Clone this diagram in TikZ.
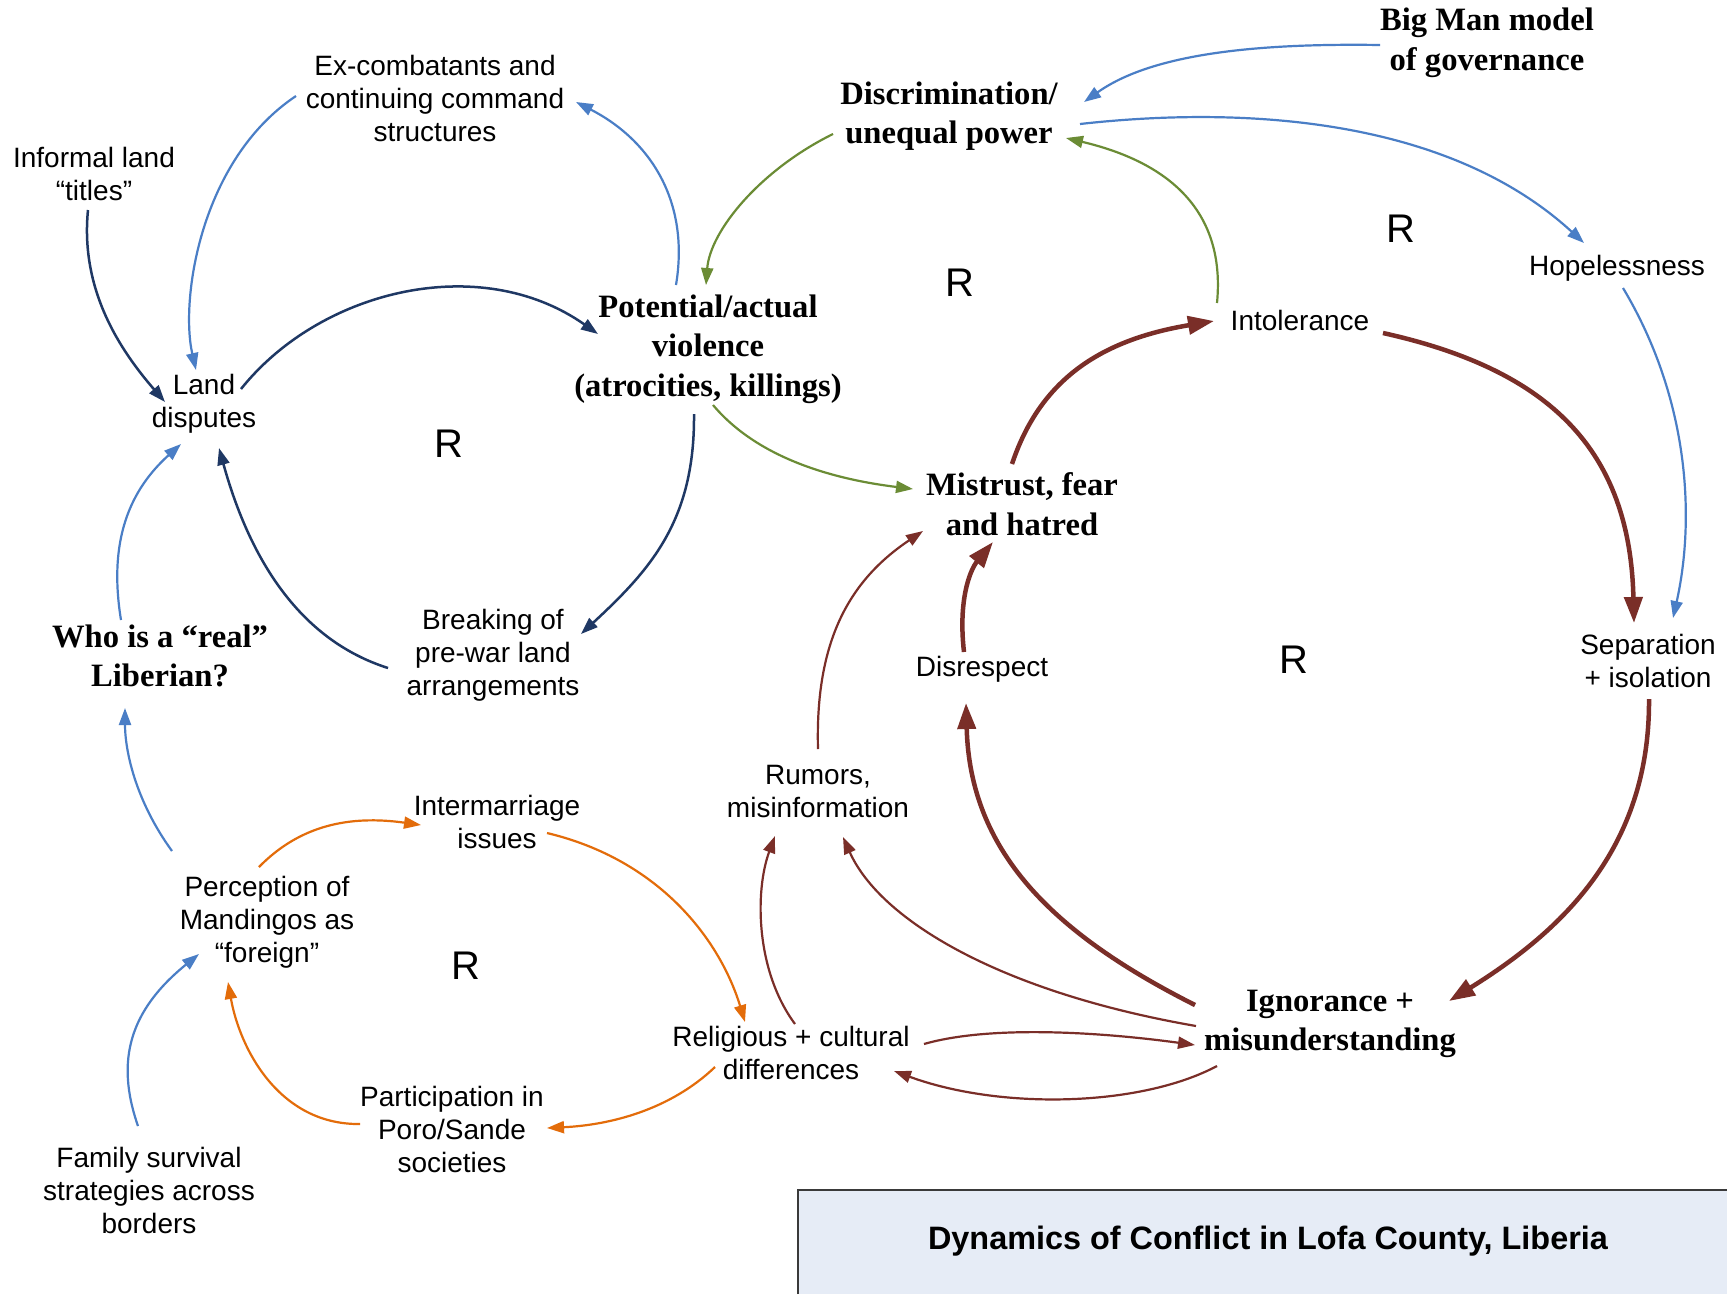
\documentclass[tikz,border=0pt]{standalone}
\usepackage{fontspec}
\setmainfont{Liberation Serif}
\setsansfont{Liberation Sans}
\usetikzlibrary{arrows.meta}
\definecolor{linkblue}{HTML}{4A7EC6}
\definecolor{linkgreen}{HTML}{6B8C35}
\definecolor{linknavy}{HTML}{1F3864}
\definecolor{linkorange}{HTML}{E36C0A}
\definecolor{linkred}{HTML}{7A2E28}
\definecolor{titlefill}{HTML}{E6ECF6}
\definecolor{titleedge}{HTML}{3A3A3A}
\begin{document}
\begin{tikzpicture}[x=1pt,y=-1pt,
  plain/.style={font=\sffamily\fontsize{28}{33}\selectfont,align=center,inner sep=0pt},
  key/.style={font=\bfseries\fontsize{32.6}{39.5}\selectfont,align=center,inner sep=0pt},
  loopmark/.style={font=\sffamily\fontsize{40}{48}\selectfont,inner sep=0pt},
  thinlink/.style={line width=2.2pt,-{Triangle[length=17pt,width=12pt]}},
  thicklink/.style={line width=4.5pt,-{Triangle[length=26pt,width=18pt]}},
]
\clip (0,0) rectangle (1727,1294);
\fill[white] (0,0) rectangle (1727,1294);

% title panel
\fill[titlefill] (798,1190) rectangle (1727,1294);
\draw[titleedge,line width=1.5pt] (798,1294) -- (798,1190) -- (1727,1190);
\node[font=\sffamily\bfseries\fontsize{32.4}{38}\selectfont,inner sep=0pt] (title) at (1268,1241) {Dynamics of Conflict in Lofa County, Liberia};

% variables
\node[plain] (excomb) at (435,98) {Ex-combatants and\\continuing command\\structures};
\node[plain] (informal) at (94,174) {Informal land\\“titles”};
\node[plain] (land) at (204,404) {Land\\disputes};
\node[plain] (breaking) at (493,655) {Breaking of\\pre-war land\\arrangements};
\node[plain] (hopeless) at (1617,268) {Hopelessness};
\node[plain] (intol) at (1300,320) {Intolerance};
\node[plain] (disresp) at (982,669) {Disrespect};
\node[plain] (separation) at (1648,661) {Separation\\+ isolation};
\node[plain] (rumors) at (818,791) {Rumors,\\misinformation};
\node[plain] (intermar) at (497,822) {Intermarriage\\issues};
\node[plain] (perception) at (267,922) {Perception of\\Mandingos as\\“foreign”};
\node[plain] (religious) at (791,1053) {Religious + cultural\\differences};
\node[plain] (particip) at (452,1129) {Participation in\\Poro/Sande\\societies};
\node[plain] (family) at (149,1190) {Family survival\\strategies across\\borders};

\node[key] (bigman) at (1487,43) {Big Man model\\of governance};
\node[key] (discrim) at (949,116) {Discrimination/\\unequal power};
\node[key] (violence) at (708,349) {Potential/actual\\violence\\(atrocities, killings)};
\node[key] (mistrust) at (1022,504) {Mistrust, fear\\and hatred};
\node[key] (who) at (160,656) {Who is a “real”\\Liberian?};
\node[key] (ignorance) at (1330,1024) {Ignorance +\\misunderstanding};

% loop markers
\node[loopmark] (r1) at (449,444) {R};
\node[loopmark] (r2) at (960,283) {R};
\node[loopmark] (r3) at (1401,229) {R};
\node[loopmark] (r4) at (1294,660) {R};
\node[loopmark] (r5) at (466,966) {R};

% blue links
\draw[thinlink,linkblue] ([shift={(-139,-2)}]excomb.center) .. controls +(-96,64) and +(-16,-70) .. ([shift={(-8,-34)}]land.center);
\draw[thinlink,linkblue] ([shift={(-32,-64)}]violence.center) .. controls +(14,-84) and +(74,38) .. ([shift={(141,4)}]excomb.center);
\draw[thinlink,linkblue] ([shift={(-39,-36)}]who.center) .. controls +(-13,-80) and +(-51,46) .. ([shift={(-23,40)}]land.center);
\draw[thinlink,linkblue] ([shift={(-95,-71)}]perception.center) .. controls +(-37,-51) and +(0,42) .. ([shift={(-35,52)}]who.center);
\draw[thinlink,linkblue] ([shift={(-11,-64)}]family.center) .. controls +(-23,-66) and +(-69,56) .. ([shift={(-68,32)}]perception.center);
\draw[thinlink,linkblue] ([shift={(-107,2)}]bigman.center) .. controls +(-130,-2) and +(66,-47) .. ([shift={(135,-14)}]discrim.center);
\draw[thinlink,linkblue] ([shift={(131,8)}]discrim.center) .. controls +(170,-19) and +(-134,-123) .. ([shift={(-33,-25)}]hopeless.center);
\draw[thinlink,linkblue] ([shift={(6,20)}]hopeless.center) .. controls +(67,112) and +(22,-98) .. ([shift={(25,-43)}]separation.center);

% green links
\draw[thinlink,linkgreen] ([shift={(-116,18)}]discrim.center) .. controls +(-73,36) and +(4,-54) .. ([shift={(-2,-64)}]violence.center);
\draw[thinlink,linkgreen] ([shift={(-83,-17)}]intol.center) .. controls +(8,-83) and +(114,27) .. ([shift={(117,22)}]discrim.center);
\draw[thinlink,linkgreen] ([shift={(5,56)}]violence.center) .. controls +(47,56) and +(-73,-9) .. ([shift={(-109,-15)}]mistrust.center);

% navy links
\draw[thinlink,linknavy,line width=2.5pt] ([shift={(-6,36)}]informal.center) .. controls +(-8,80) and +(-45,-52) .. ([shift={(-39,-2)}]land.center);
\draw[thinlink,linknavy,line width=2.5pt] ([shift={(37,-15)}]land.center) .. controls +(79,-99) and +(-118,-83) .. ([shift={(-110,-15)}]violence.center);
\draw[thinlink,linknavy,line width=2.5pt] ([shift={(-14,65)}]violence.center) .. controls +(1,107) and +(69,-64) .. ([shift={(88,-21)}]breaking.center);
\draw[thinlink,linknavy,line width=2.5pt] ([shift={(-105,13)}]breaking.center) .. controls +(-88,-28) and +(31,112) .. ([shift={(15,44)}]land.center);

% orange links
\draw[thinlink,linkorange] ([shift={(-8,-55)}]perception.center) .. controls +(41,-42) and +(-71,-10) .. ([shift={(-76,3)}]intermar.center);
\draw[thinlink,linkorange] ([shift={(50,11)}]intermar.center) .. controls +(113,27) and +(-25,-82) .. ([shift={(-46,-31)}]religious.center);
\draw[thinlink,linkorange] ([shift={(-76,14)}]religious.center) .. controls +(-45,43) and +(63,-3) .. ([shift={(95,-1)}]particip.center);
\draw[thinlink,linkorange] ([shift={(-92,-5)}]particip.center) .. controls +(-80,1) and +(12,68) .. ([shift={(-39,60)}]perception.center);

% red links, main loop
\draw[thicklink,linkred] ([shift={(-10,-40)}]mistrust.center) .. controls +(28,-84) and +(-114,19) .. ([shift={(-86,1)}]intol.center);
\draw[thicklink,linkred] ([shift={(83,13)}]intol.center) .. controls +(167,37) and +(-4,-173) .. ([shift={(-14,-38)}]separation.center);
\draw[thicklink,linkred] ([shift={(1,38)}]separation.center) .. controls +(1,151) and +(111,-69) .. ([shift={(119,-23)}]ignorance.center);
\draw[thicklink,linkred] ([shift={(-135,-19)}]ignorance.center) .. controls +(-145,-73) and +(4,147) .. ([shift={(-16,34)}]disresp.center);
\draw[thicklink,linkred] ([shift={(-18,-17)}]disresp.center) .. controls +(-6,-52) and +(-23,28) .. ([shift={(-29,38)}]mistrust.center);

% red links, secondary
\draw[thinlink,linkred] ([shift={(0,-42)}]rumors.center) .. controls +(-3,-109) and +(-73,49) .. ([shift={(-99,27)}]mistrust.center);
\draw[thinlink,linkred] ([shift={(-134,2)}]ignorance.center) .. controls +(-196,-34) and +(37,83) .. ([shift={(25,46)}]rumors.center);
\draw[thinlink,linkred] ([shift={(4,-29)}]religious.center) .. controls +(-40,-54) and +(-20,54) .. ([shift={(-43,45)}]rumors.center);
\draw[thinlink,linkred] ([shift={(133,-9)}]religious.center) .. controls +(66,-19) and +(-95,-13) .. ([shift={(-135,21)}]ignorance.center);
\draw[thinlink,linkred] ([shift={(-113,42)}]ignorance.center) .. controls +(-77,41) and +(106,39) .. ([shift={(103,18)}]religious.center);
\end{tikzpicture}
\end{document}
